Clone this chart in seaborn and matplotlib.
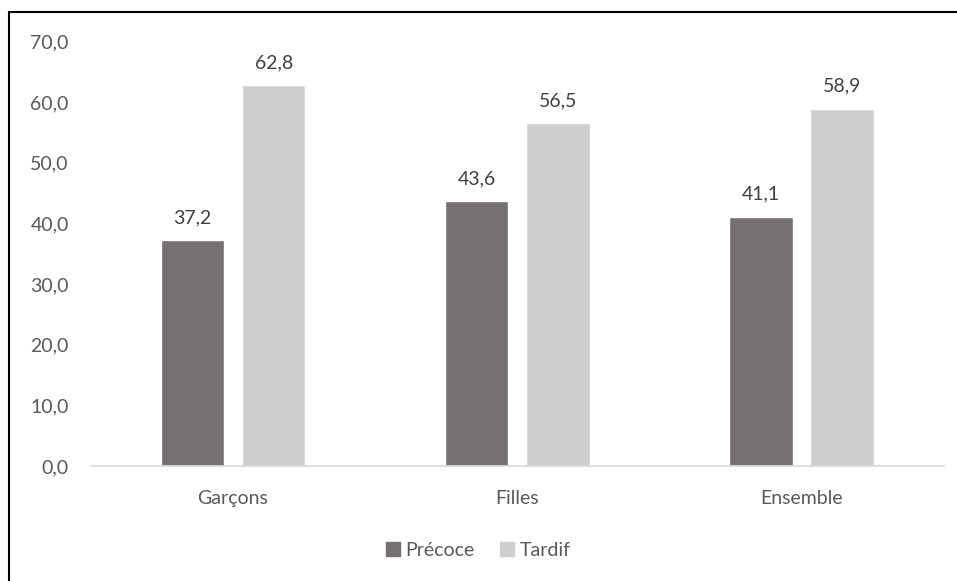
import matplotlib
matplotlib.use('Agg')
import matplotlib.pyplot as plt
import matplotlib.lines as mlines
import seaborn as sns
import pandas as pd

# Données
categories = ['Garçons', 'Filles', 'Ensemble']
precoce = [37.2, 43.6, 41.1]
tardif = [62.8, 56.5, 58.9]
series = ['Précoce', 'Tardif']
couleurs = ['#767171', '#D0CECE']
yticks = [0, 10, 20, 30, 40, 50, 60, 70]

df = pd.DataFrame({
    'groupe': categories * 2,
    'valeur': precoce + tardif,
    'serie': [series[0]] * 3 + [series[1]] * 3,
})

sns.set_style('white')
plt.rcParams['font.family'] = ['Lato', 'DejaVu Sans']
texte = '#595959'

fig = plt.figure(figsize=(9.57, 5.81), dpi=100)
ax = fig.add_axes([0.095, 0.198, 0.891, 0.731])

sns.barplot(data=df, x='groupe', y='valeur', hue='serie', palette=couleurs,
            width=0.572, gap=0.22, ax=ax, legend=False, saturation=1)

for cont in ax.containers:
    ax.bar_label(cont, labels=[f'{v:.1f}'.replace('.', ',') for v in cont.datavalues],
                 padding=10, fontsize=14, color='#404040')

ax.set_ylim(0, 70)
ax.set_yticks(yticks)
ax.set_yticklabels([f'{v:.1f}'.replace('.', ',') for v in yticks])
ax.set_xlim(-0.5, 2.5)
ax.set_xlabel('')
ax.set_ylabel('')
ax.tick_params(axis='both', length=0, labelsize=14, labelcolor=texte)
ax.tick_params(axis='x', pad=17)
ax.tick_params(axis='y', pad=16)
for s in ['top', 'right', 'left']:
    ax.spines[s].set_visible(False)
ax.spines['bottom'].set_color('#D9D9D9')
ax.spines['bottom'].set_linewidth(1.2)

handles = [plt.Rectangle((0, 0), 1, 1, color=c) for c in couleurs]
fig.legend(handles, series, loc='center', bbox_to_anchor=(0.5, 0.053), ncol=2,
           frameon=False, fontsize=14, labelcolor=texte, handlelength=0.7,
           handleheight=0.7, handletextpad=0.3, columnspacing=1.3)

# cadre (haut et gauche visibles)
fig.add_artist(mlines.Line2D([9 / 957, 1], [1 - 12 / 581, 1 - 12 / 581],
                             transform=fig.transFigure, color='black', lw=1.5))
fig.add_artist(mlines.Line2D([9 / 957, 9 / 957], [0, 1 - 12 / 581],
                             transform=fig.transFigure, color='black', lw=1.5))

fig.savefig('out.png', dpi=100)
